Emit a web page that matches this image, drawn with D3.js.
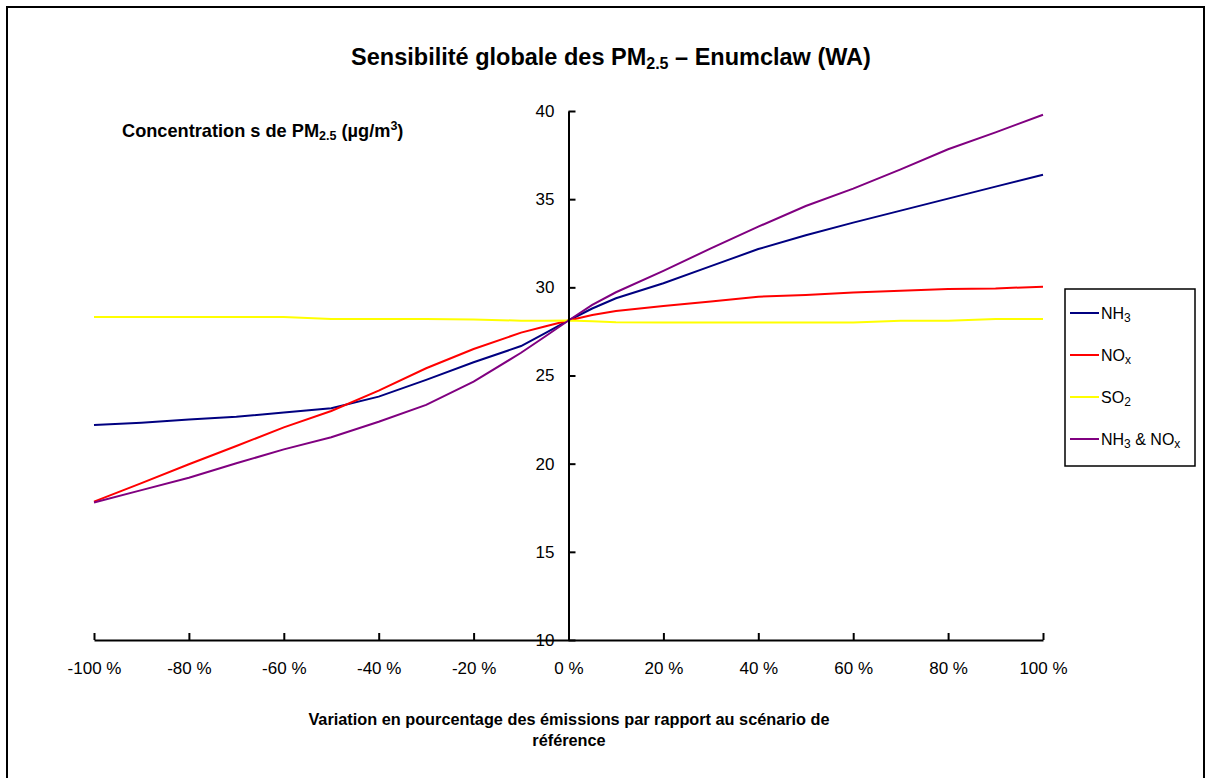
<!DOCTYPE html>
<html>
<head>
<meta charset="utf-8">
<script src="https://cdn.jsdelivr.net/npm/d3@7"></script>
<style>
  body { margin: 0; background: #fff; }
  text { font-family: "Liberation Sans", Arial, sans-serif; fill: #000; }
  .axis path, .axis line { stroke: #000; stroke-width: 2; }
  .axis text { font-size: 17px; }
</style>
</head>
<body>
<div id="chart"></div>
<script>
// emission change (%)
var pct = [-100, -90, -80, -70, -60, -50, -40, -30, -20, -10, -5, 0, 5, 10, 20, 30, 40, 50, 60, 70, 80, 90, 100];

// PM2.5 concentrations (µg/m3)
var nh3    = [22.19, 22.32, 22.5, 22.66, 22.9, 23.14, 23.8, 24.75, 25.75, 26.67, 27.39, 28.12, 28.8, 29.38, 30.23, 31.2, 32.17, 32.95, 33.67, 34.35, 35.03, 35.71, 36.39];
var nox    = [17.85, 18.9, 19.97, 21.0, 22.06, 22.99, 24.14, 25.41, 26.5, 27.43, 27.78, 28.12, 28.43, 28.66, 28.94, 29.2, 29.47, 29.57, 29.7, 29.81, 29.9, 29.94, 30.04];
var so2    = [28.32, 28.32, 28.32, 28.32, 28.32, 28.2, 28.2, 28.2, 28.17, 28.11, 28.1, 28.12, 28.08, 28.02, 28.0, 28.0, 28.0, 28.0, 28.0, 28.1, 28.1, 28.2, 28.2];
var nh3nox = [17.8, 18.5, 19.2, 20.02, 20.81, 21.5, 22.38, 23.33, 24.65, 26.29, 27.2, 28.12, 29.0, 29.72, 30.93, 32.21, 33.44, 34.61, 35.6, 36.69, 37.83, 38.79, 39.79];

var xTicks = [-100, -80, -60, -40, -20, 0, 20, 40, 60, 80, 100];
var yTicks = [10, 15, 20, 25, 30, 35, 40];

var series = [
  {name: "NH3", values: nh3, color: "#000080"},
  {name: "NOx", values: nox, color: "#ff0000"},
  {name: "SO2", values: so2, color: "#ffff00"},
  {name: "NH3 & NOx", values: nh3nox, color: "#800080"}
];

var width = 1212, height = 778;

var svg = d3.select("#chart").append("svg")
    .attr("width", width)
    .attr("height", height);

// outer frame (bottom edge runs off the picture)
svg.append("rect")
    .attr("x", 7).attr("y", 7)
    .attr("width", 1197).attr("height", 800)
    .attr("fill", "none")
    .attr("stroke", "#000")
    .attr("stroke-width", 2);

var x = d3.scaleLinear().domain([-100, 100]).range([94, 1043]);
var y = d3.scaleLinear().domain([10, 40]).range([640, 111]);

// lines first, axes drawn on top
var line = d3.line()
    .x((d, i) => x(pct[i]))
    .y(d => y(d));

svg.selectAll(".series")
    .data(series)
    .enter()
    .append("path")
    .attr("class", "series")
    .attr("d", d => line(d.values))
    .attr("fill", "none")
    .attr("stroke", d => d.color)
    .attr("stroke-width", 2);

var xAxis = d3.axisBottom(x)
    .tickValues(xTicks)
    .tickSizeInner(-7)
    .tickSizeOuter(0)
    .tickPadding(22)
    .tickFormat(d => d + " %");

svg.append("g")
    .attr("class", "x axis")
    .attr("transform", `translate(0, ${y(10)})`)
    .call(xAxis);

var yAxis = d3.axisLeft(y)
    .tickValues(yTicks)
    .tickSizeInner(-7)
    .tickSizeOuter(0)
    .tickPadding(14);

svg.append("g")
    .attr("class", "y axis")
    .attr("transform", `translate(${x(0)}, 0)`)
    .call(yAxis);

// title
var title = svg.append("text")
    .attr("x", 611)
    .attr("y", 65)
    .attr("text-anchor", "middle")
    .style("font-size", "23.5px")
    .style("font-weight", "bold");
title.append("tspan").text("Sensibilité globale des PM");
title.append("tspan").attr("dy", 4).style("font-size", "16px").text("2.5");
title.append("tspan").attr("dy", -4).text(" – Enumclaw (WA)");

// y axis title
var ylab = svg.append("text")
    .attr("x", 122)
    .attr("y", 137)
    .style("font-size", "18.2px")
    .style("font-weight", "bold");
ylab.append("tspan").text("Concentration s de PM");
ylab.append("tspan").attr("dy", 3).style("font-size", "12.5px").text("2.5");
ylab.append("tspan").attr("dy", -3).text(" (µg/m");
ylab.append("tspan").attr("dy", -7).style("font-size", "12.5px").text("3");
ylab.append("tspan").attr("dy", 7).text(")");

// x axis title
svg.append("text")
    .attr("x", 569).attr("y", 725)
    .attr("text-anchor", "middle")
    .style("font-size", "16.3px")
    .style("font-weight", "bold")
    .text("Variation en pourcentage des émissions par rapport au scénario de");
svg.append("text")
    .attr("x", 569).attr("y", 746)
    .attr("text-anchor", "middle")
    .style("font-size", "16.3px")
    .style("font-weight", "bold")
    .text("référence");

// legend
var legend = svg.append("g");
legend.append("rect")
    .attr("x", 1065).attr("y", 289)
    .attr("width", 130).attr("height", 177)
    .attr("fill", "#fff")
    .attr("stroke", "#000")
    .attr("stroke-width", 1.5);

var labels = [
  [["NH", 0], ["3", 1]],
  [["NO", 0], ["x", 1]],
  [["SO", 0], ["2", 1]],
  [["NH", 0], ["3", 1], [" & NO", 0], ["x", 1]]
];

series.forEach(function(s, i) {
  var ly = 313 + i * 42;
  legend.append("line")
      .attr("x1", 1070).attr("x2", 1099)
      .attr("y1", ly).attr("y2", ly)
      .attr("stroke", s.color)
      .attr("stroke-width", 2);
  var t = legend.append("text")
      .attr("x", 1101)
      .attr("y", ly + 6)
      .style("font-size", "16px");
  var shift = 0;
  labels[i].forEach(function(p) {
    var dy = p[1] ? 3 - shift : -shift;
    shift = p[1] ? 3 : 0;
    t.append("tspan")
        .attr("dy", dy)
        .style("font-size", p[1] ? "12px" : "16px")
        .text(p[0]);
  });
});
</script>
</body>
</html>
